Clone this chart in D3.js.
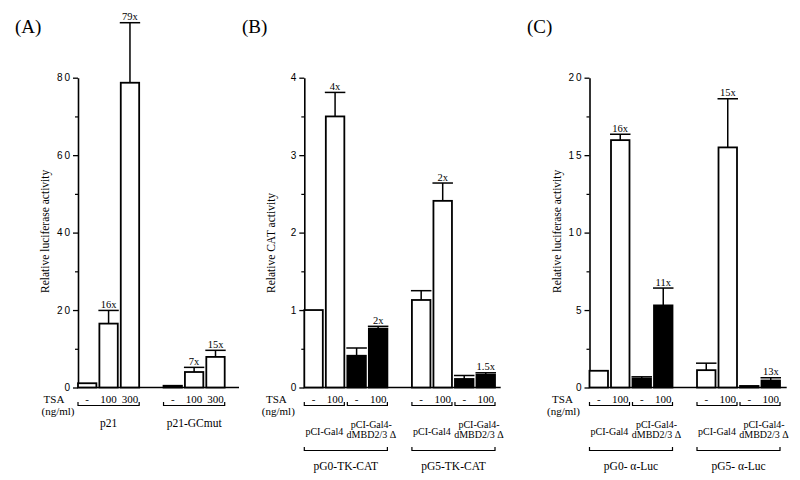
<!DOCTYPE html>
<html>
<head>
<meta charset="utf-8">
<script src="https://cdn.jsdelivr.net/npm/d3@7"></script>
<style>
  html, body { margin: 0; padding: 0; background: #fff; }
  svg { display: block; }
</style>
</head>
<body>
<svg id="chart" width="800" height="480"></svg>
<script>
// ---------------- Panel A data ----------------
const panelA_tsa      = ["-", "100", "300", "-", "100", "300"];
const panelA_group    = ["p21", "p21", "p21", "p21-GCmut", "p21-GCmut", "p21-GCmut"];
const panelA_values   = [1.1, 16.5, 78.7, 0.45, 4.0, 7.9];
const panelA_errorTop = [null, 19.9, 94.2, null, 5.2, 9.6];
const panelA_fold     = ["", "16x", "79x", "", "7x", "15x"];
const panelA_yTicks   = [0, 20, 40, 60, 80];
const panelA_yMinor   = [10, 30, 50, 70];

// ---------------- Panel B data ----------------
const panelB_tsa       = ["-", "100", "-", "100", "-", "100", "-", "100"];
const panelB_group     = ["pG0-TK-CAT", "pG0-TK-CAT", "pG0-TK-CAT", "pG0-TK-CAT",
                          "pG5-TK-CAT", "pG5-TK-CAT", "pG5-TK-CAT", "pG5-TK-CAT"];
const panelB_construct = ["pCI-Gal4", "pCI-Gal4", "pCI-Gal4-\ndMBD2/3 Δ", "pCI-Gal4-\ndMBD2/3 Δ",
                          "pCI-Gal4", "pCI-Gal4", "pCI-Gal4-\ndMBD2/3 Δ", "pCI-Gal4-\ndMBD2/3 Δ"];
const panelB_values    = [1.0, 3.5, 0.41, 0.76, 1.13, 2.41, 0.11, 0.165];
const panelB_errorTop  = [null, 3.81, 0.51, 0.79, 1.25, 2.64, 0.155, 0.19];
const panelB_fold      = ["", "4x", "", "2x", "", "2x", "", "1.5x"];
const panelB_yTicks    = [0, 1, 2, 3, 4];
const panelB_yMinor    = [0.5, 1.5, 2.5, 3.5];

// ---------------- Panel C data ----------------
const panelC_tsa       = ["-", "100", "-", "100", "-", "100", "-", "100"];
const panelC_group     = ["pG0- α-Luc", "pG0- α-Luc", "pG0- α-Luc", "pG0- α-Luc",
                          "pG5- α-Luc", "pG5- α-Luc", "pG5- α-Luc", "pG5- α-Luc"];
const panelC_construct = ["pCI-Gal4", "pCI-Gal4", "pCI-Gal4-\ndMBD2/3 Δ", "pCI-Gal4-\ndMBD2/3 Δ",
                          "pCI-Gal4", "pCI-Gal4", "pCI-Gal4-\ndMBD2/3 Δ", "pCI-Gal4-\ndMBD2/3 Δ"];
const panelC_values    = [1.08, 15.97, 0.58, 5.3, 1.12, 15.5, 0.1, 0.45];
const panelC_errorTop  = [null, 16.35, 0.69, 6.42, 1.57, 18.64, null, 0.63];
const panelC_fold      = ["", "16x", "", "11x", "", "15x", "", "13x"];
const panelC_yTicks    = [0, 5, 10, 15, 20];
const panelC_yMinor    = [2.5, 7.5, 12.5, 17.5];

const SERIF = "'Liberation Serif', 'Times New Roman', serif";
const SANS  = "'Liberation Sans', Arial, sans-serif";
const Y0 = 387.5, Y1 = 77.7;

const svg = d3.select("#chart");
const fillScale = d3.scaleOrdinal()
  .domain(["pCI-Gal4", "pCI-Gal4-\ndMBD2/3 Δ", "none"])
  .range(["#fff", "#000", "#fff"]);

function runs(arr) {
  const out = [];
  arr.forEach((v, i) => {
    if (out.length && out[out.length - 1].key === v && out[out.length - 1].end === i - 1) {
      out[out.length - 1].end = i;
    } else out.push({ key: v, start: i, end: i });
  });
  return out;
}

function drawPanel(cfg) {
  const g = svg.append("g");
  const n = cfg.values.length;
  const groupRuns = runs(cfg.group);
  const domain = [];
  groupRuns.forEach((r, gi) => {
    for (let i = r.start; i <= r.end; i++) domain.push("b" + i);
    if (gi < groupRuns.length - 1) domain.push("gap" + gi);
  });
  const x = d3.scaleBand().domain(domain).range([cfg.x0, cfg.x1])
    .paddingInner(0.14).paddingOuter(0);
  const bw = x.bandwidth();
  const y = d3.scaleLinear().domain([0, cfg.yMax]).range([Y0, Y1]);

  // y axis major + minor
  const axMajor = g.append("g").attr("transform", `translate(${cfg.x0},0)`)
    .call(d3.axisLeft(y).tickValues(cfg.yTicks).tickSize(5).tickSizeOuter(0).tickPadding(1)
      .tickFormat(d3.format("d")));
  axMajor.select(".domain").attr("stroke-width", 1.6);
  axMajor.selectAll(".tick line").attr("stroke-width", 1.3);
  axMajor.selectAll(".tick text").attr("font-family", SANS).attr("font-size", 10)
    .attr("letter-spacing", "2px").attr("fill", "#000");
  const axMinor = g.append("g").attr("transform", `translate(${cfg.x0},0)`)
    .call(d3.axisLeft(y).tickValues(cfg.yMinor).tickSize(3).tickSizeOuter(0).tickFormat(""));
  axMinor.select(".domain").remove();
  axMinor.selectAll(".tick line").attr("stroke-width", 1.2);

  // baseline
  g.append("line").attr("x1", cfg.x0).attr("x2", cfg.baseEnd)
    .attr("y1", y(0)).attr("y2", y(0)).attr("stroke", "#000").attr("stroke-width", 1.6);

  const idx = d3.range(n);
  // bars
  g.selectAll("rect.bar").data(idx).join("rect").attr("class", "bar")
    .attr("x", i => x("b" + i)).attr("width", bw)
    .attr("y", i => y(cfg.values[i])).attr("height", i => y(0) - y(cfg.values[i]))
    .attr("fill", i => cfg.construct ? fillScale(cfg.construct[i]) : "#fff")
    .attr("stroke", "#000").attr("stroke-width", 1.8);

  // error bars
  const errIdx = idx.filter(i => cfg.errorTop[i] != null);
  g.selectAll("line.err").data(errIdx).join("line").attr("class", "err")
    .attr("x1", i => x("b" + i) + bw / 2).attr("x2", i => x("b" + i) + bw / 2)
    .attr("y1", i => y(cfg.values[i])).attr("y2", i => y(cfg.errorTop[i]))
    .attr("stroke", "#000").attr("stroke-width", 1.5);
  g.selectAll("line.cap").data(errIdx).join("line").attr("class", "cap")
    .attr("x1", i => x("b" + i) - 1).attr("x2", i => x("b" + i) + bw + 1)
    .attr("y1", i => y(cfg.errorTop[i])).attr("y2", i => y(cfg.errorTop[i]))
    .attr("stroke", "#000").attr("stroke-width", 1.5);

  // fold labels
  g.selectAll("text.fold").data(idx.filter(i => cfg.fold[i])).join("text").attr("class", "fold")
    .attr("x", i => x("b" + i) + bw / 2)
    .attr("y", i => y(cfg.errorTop[i] != null ? cfg.errorTop[i] : cfg.values[i]) - 2.5)
    .attr("text-anchor", "middle").attr("font-family", SERIF).attr("font-size", 10.5)
    .text(i => cfg.fold[i]);

  // TSA row
  g.selectAll("text.tsa").data(idx).join("text").attr("class", "tsa")
    .attr("x", i => x("b" + i) + bw / 2).attr("y", 403)
    .attr("text-anchor", "middle").attr("font-family", SERIF).attr("font-size", 11)
    .text(i => cfg.tsa[i]);
  g.append("text").attr("x", cfg.x0 + cfg.tsaDx).attr("y", 403).attr("text-anchor", "middle")
    .attr("font-family", SERIF).attr("font-size", 11).text("TSA");
  g.append("text").attr("x", cfg.x0 + cfg.ngDx).attr("y", 414.5).attr("text-anchor", "middle")
    .attr("font-family", SERIF).attr("font-size", 11).text("(ng/ml)");

  function bracket(r, yy) {
    const xa = x("b" + r.start), xb = x("b" + r.end) + bw;
    g.append("path").attr("d", `M${xa},${yy - 3.5}V${yy}H${xb}V${yy - 3.5}`)
      .attr("fill", "none").attr("stroke", "#000").attr("stroke-width", 1.2);
    return (xa + xb) / 2;
  }

  if (cfg.construct) {
    runs(cfg.construct.map((c, i) => cfg.group[i] + "|" + c)).forEach(r => {
      const cx = bracket(r, 405.5);
      const lines = cfg.construct[r.start].split("\n");
      const t = g.append("text").attr("text-anchor", "middle").attr("font-family", SERIF)
        .attr("font-size", 10);
      if (lines.length === 1) {
        t.attr("x", cx).attr("y", 435).text(lines[0]);
      } else {
        lines.forEach((l, k) => t.append("tspan").attr("x", cx + 4).attr("y", 428 + k * 9.5).text(l));
      }
    });
    groupRuns.forEach(r => {
      const cx = bracket(r, 450.5);
      g.append("text").attr("x", cx).attr("y", 470).attr("text-anchor", "middle")
        .attr("font-family", SERIF).attr("font-size", 11.5).text(r.key);
    });
  } else {
    groupRuns.forEach(r => {
      const cx = bracket(r, 405.5);
      g.append("text").attr("x", cx).attr("y", 427).attr("text-anchor", "middle")
        .attr("font-family", SERIF).attr("font-size", 11.5).text(r.key);
    });
  }

  // y label
  g.append("text").attr("transform", `translate(${cfg.x0 + cfg.ylabDx},293) rotate(-90)`)
    .attr("text-anchor", "start").attr("font-family", SERIF).attr("font-size", 11.5)
    .text(cfg.yLabel);

  // panel label
  svg.append("text").attr("x", cfg.panelX).attr("y", 33).attr("font-family", SERIF)
    .attr("font-size", 19).text(cfg.panel);
}

drawPanel({
  panel: "(A)", panelX: 15, yLabel: "Relative luciferase activity",
  values: panelA_values, errorTop: panelA_errorTop, fold: panelA_fold, tsa: panelA_tsa,
  group: panelA_group, yMax: 80, yTicks: panelA_yTicks, yMinor: panelA_yMinor,
  x0: 78, x1: 224.7, baseEnd: 239, tsaDx: -24, ngDx: -20, ylabDx: -29
});
drawPanel({
  panel: "(B)", panelX: 242, yLabel: "Relative CAT activity",
  values: panelB_values, errorTop: panelB_errorTop, fold: panelB_fold, tsa: panelB_tsa,
  group: panelB_group, construct: panelB_construct,
  yMax: 4, yTicks: panelB_yTicks, yMinor: panelB_yMinor,
  x0: 304.3, x1: 495, baseEnd: 500.7, tsaDx: -28, ngDx: -26, ylabDx: -29
});
drawPanel({
  panel: "(C)", panelX: 527, yLabel: "Relative luciferase activity",
  values: panelC_values, errorTop: panelC_errorTop, fold: panelC_fold, tsa: panelC_tsa,
  group: panelC_group, construct: panelC_construct,
  yMax: 20, yTicks: panelC_yTicks, yMinor: panelC_yMinor,
  x0: 589.5, x1: 780, baseEnd: 786.7, tsaDx: -27, ngDx: -26, ylabDx: -29
});
</script>
</body>
</html>
